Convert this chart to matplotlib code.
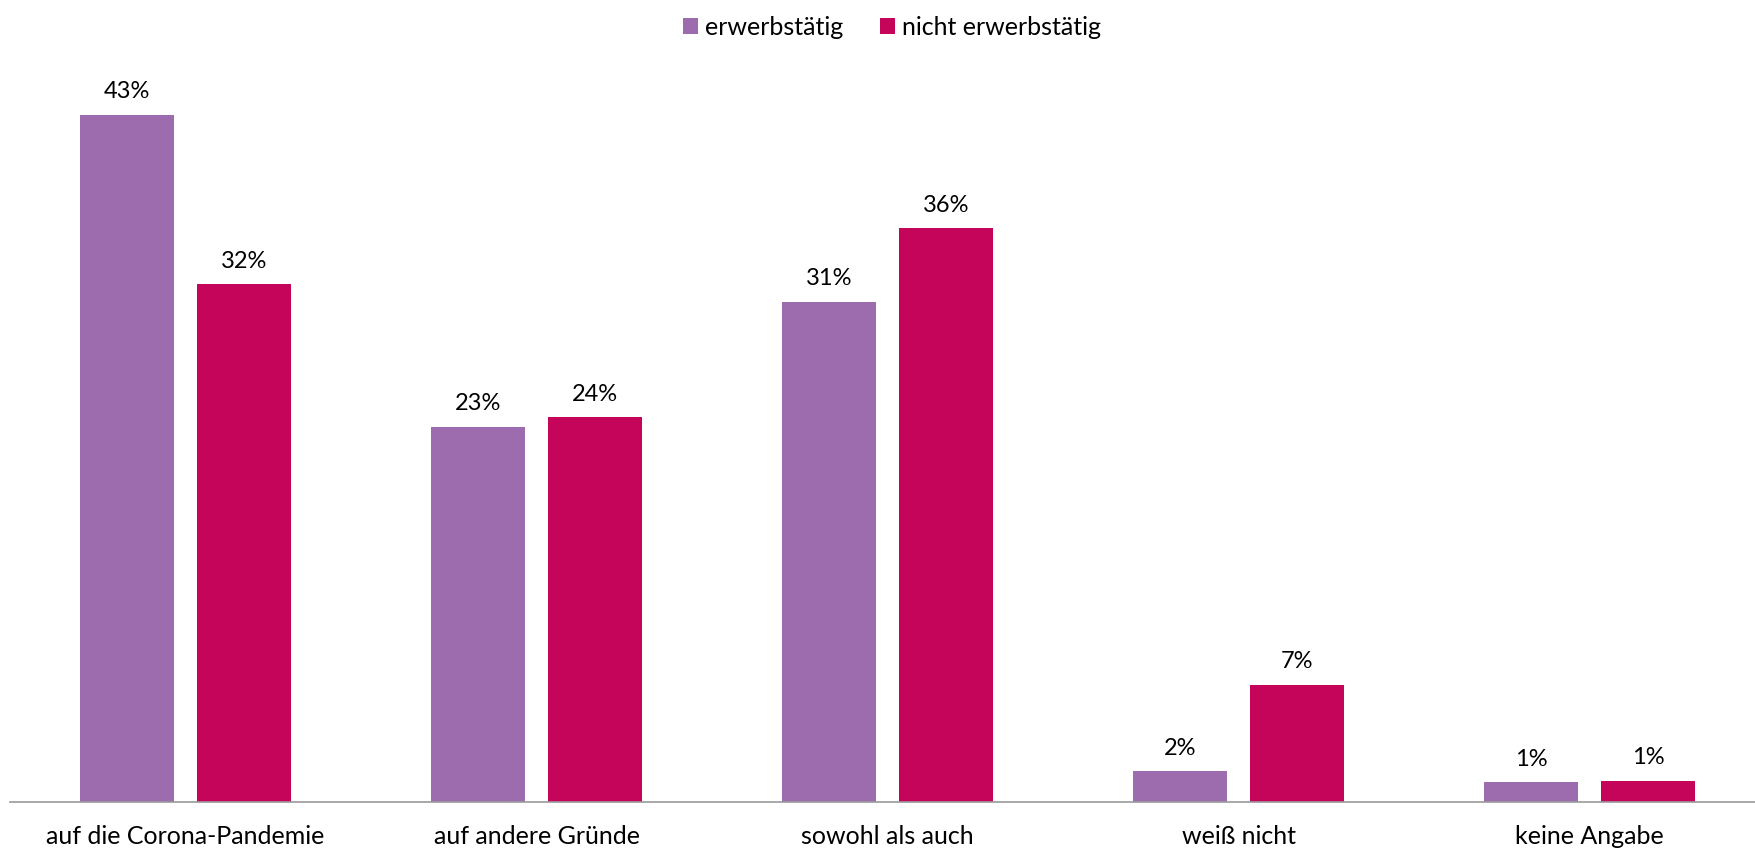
import matplotlib.pyplot as plt
import numpy as np

categories = ["auf die Corona-Pandemie", "auf andere Gründe", "sowohl als auch",
              "weiß nicht", "keine Angabe"]
erwerbstaetig = [42.9, 23.4, 31.2, 1.9, 1.2]
nicht_erwerbstaetig = [32.3, 24.0, 35.8, 7.3, 1.3]
labels_erw = ["43%", "23%", "31%", "2%", "1%"]
labels_nicht = ["32%", "24%", "36%", "7%", "1%"]

plt.rcParams['font.family'] = ['Lato', 'DejaVu Sans']

fig = plt.figure(figsize=(17.56, 8.48), dpi=100)
# axis runs a little past the right edge, as in the original
ax = fig.add_axes([10 / 1756, 46.5 / 848, 1755 / 1756, 720.5 / 848])

x = np.arange(len(categories))
w = 0.266
off = 0.1668
b1 = ax.bar(x - off, erwerbstaetig, w, color="#9D6CAF", label="erwerbstätig")
b2 = ax.bar(x + off, nicht_erwerbstaetig, w, color="#C5055A", label="nicht erwerbstätig")

for bars, labs in ((b1, labels_erw), (b2, labels_nicht)):
    for b, t in zip(bars, labs):
        ax.annotate(t, (b.get_x() + b.get_width() / 2, b.get_height()),
                    xytext=(0, 9), textcoords="offset points",
                    ha="center", va="bottom", fontsize=17)

ax.set_xlim(-0.5, len(categories) - 0.5)
ax.set_ylim(0, 45)
ax.set_xticks(x)
ax.set_xticklabels(categories, fontsize=18)
ax.tick_params(axis="x", length=0, pad=17)
ax.set_yticks([])
for s in ["top", "right", "left"]:
    ax.spines[s].set_visible(False)
ax.spines["bottom"].set_color("#999999")
ax.spines["bottom"].set_linewidth(1.2)

fig.legend(loc="upper center", bbox_to_anchor=(0.508, 1.008), ncol=2, frameon=False,
           fontsize=18, handlelength=0.6, handleheight=0.6, handletextpad=0.3,
           columnspacing=1.45)

fig.savefig("out.png", dpi=100)
